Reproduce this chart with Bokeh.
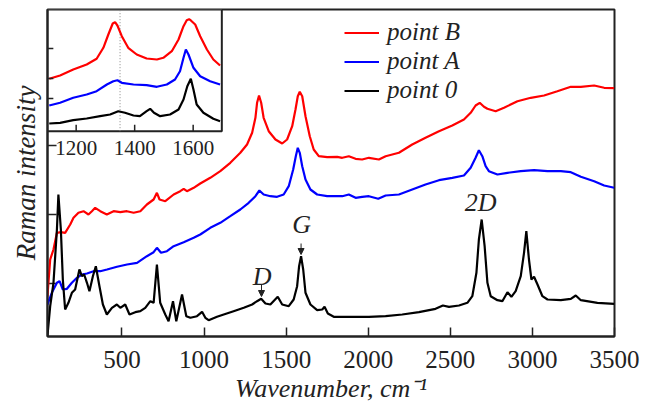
from bokeh.plotting import figure
from bokeh.models import (Range1d, FixedTicker, Legend, LegendItem, Label,
                          Arrow, NormalHead)
from bokeh.embed import file_html
from bokeh.resources import INLINE
from bokeh.core.properties import value

FONT = "Liberation Serif"

# ---------------- main spectra (x: cm^-1, y: arbitrary units) ----------------
x0 = [46, 63, 83, 104, 113, 128, 140, 154, 174, 195, 215, 241, 256, 270, 287, 302,
      323, 341, 363, 384, 408, 439, 469, 490, 520, 546, 581, 612, 642, 673, 693,
      713, 733, 764, 784, 811, 831, 866, 892, 917, 957, 988, 1008, 1028, 1079,
      1120, 1180, 1242, 1293, 1323, 1348, 1374, 1404, 1449, 1476, 1516, 1546,
      1567, 1579, 1591, 1604, 1618, 1648, 1689, 1720, 1734, 1754, 1790, 1831,
      1902, 2004, 2106, 2207, 2309, 2410, 2455, 2492, 2553, 2604, 2634, 2659,
      2674, 2691, 2709, 2726, 2746, 2787, 2817, 2848, 2872, 2898, 2929, 2949,
      2963, 2979, 2994, 3010, 3031, 3061, 3092, 3173, 3234, 3264, 3295, 3396, 3498]
y0 = [-1.0, 2.03, 4.37, 9.7, 13.2, 9.7, 4.7, 1.7, 2.37, 3.37, 3.7, 5.7, 5.03, 5.2,
      4.37, 3.53, 5.03, 6.03, 4.03, 2.2, 1.2, 1.87, 2.2, 1.87, 2.2, 1.2, 1.43, 1.53,
      1.87, 2.53, 2.37, 6.2, 2.37, 1.2, 0.53, 2.53, 0.53, 3.2, 1.03, 0.87, 1.03,
      1.47, 0.87, 0.63, 0.97, 1.2, 1.53, 1.87, 2.2, 2.53, 2.77, 2.3, 2.2, 2.97, 2.2,
      2.03, 2.7, 4.03, 6.03, 7.03, 5.7, 3.37, 2.2, 1.63, 1.7, 1.97, 1.3, 0.97, 0.97,
      0.97, 0.97, 1.03, 1.2, 1.43, 1.77, 2.1, 1.97, 2.1, 2.37, 3.03, 5.37, 8.7,
      10.7, 8.03, 4.37, 3.03, 2.63, 2.53, 3.43, 2.97, 3.53, 5.03, 7.37, 9.53, 6.7,
      4.7, 4.97, 4.2, 3.03, 2.7, 2.63, 2.77, 3.1, 2.63, 2.37, 2.27]

xB = [46, 63, 83, 104, 128, 154, 185, 205, 235, 266, 296, 317, 337, 368, 408, 449,
      490, 530, 571, 612, 652, 693, 713, 729, 764, 815, 855, 876, 896, 937, 977,
      1038, 1099, 1160, 1221, 1262, 1293, 1313, 1323, 1335, 1348, 1363, 1394, 1435,
      1476, 1506, 1537, 1557, 1571, 1583, 1598, 1618, 1644, 1668, 1699, 1750, 1811,
      1842, 1882, 1923, 1963, 2004, 2065, 2106, 2187, 2268, 2349, 2431, 2512, 2583,
      2624, 2654, 2679, 2705, 2726, 2776, 2827, 2909, 2990, 3071, 3152, 3234, 3295,
      3376, 3437, 3498]
yB = [3.0, 6.7, 7.7, 9.37, 9.43, 9.37, 10.2, 10.87, 11.37, 11.53, 11.2, 11.53, 11.87,
      11.53, 11.2, 11.53, 11.43, 11.53, 11.37, 11.53, 12.2, 12.7, 13.37, 12.7, 12.53,
      13.2, 13.53, 13.77, 13.53, 13.87, 14.3, 14.87, 15.53, 16.37, 17.37, 18.2, 19.37,
      20.87, 22.37, 23.1, 22.37, 20.87, 19.53, 18.7, 18.3, 18.7, 20.03, 21.7, 23.03,
      23.47, 23.03, 21.03, 19.03, 17.7, 17.03, 16.93, 16.97, 16.87, 17.03, 16.77,
      16.7, 16.87, 16.7, 17.03, 17.37, 18.2, 18.87, 19.53, 20.1, 20.7, 21.37, 22.1,
      22.37, 21.97, 21.77, 21.53, 21.87, 22.53, 22.87, 23.1, 23.53, 23.97, 23.97,
      24.1, 23.87, 23.83]

xA = [46, 73, 104, 120, 140, 165, 195, 226, 256, 287, 327, 368, 409, 470, 531, 592,
      652, 693, 713, 738, 774, 815, 876, 937, 977, 1038, 1099, 1160, 1221, 1272,
      1313, 1337, 1363, 1404, 1445, 1485, 1516, 1543, 1559, 1571, 1583, 1598, 1618,
      1648, 1689, 1750, 1811, 1842, 1882, 1923, 1963, 2004, 2061, 2106, 2187, 2268,
      2349, 2431, 2512, 2583, 2624, 2654, 2674, 2695, 2715, 2735, 2787, 2848, 2929,
      3010, 3092, 3173, 3234, 3295, 3376, 3437, 3498]
yA = [2.2, 3.37, 4.37, 4.53, 3.7, 3.77, 4.37, 4.87, 5.2, 5.3, 5.53, 5.53, 5.7, 5.97,
      6.2, 6.37, 7.03, 7.43, 7.87, 7.37, 7.53, 8.03, 8.43, 8.87, 9.2, 9.87, 10.37,
      11.03, 11.7, 12.37, 13.03, 13.6, 13.2, 13.03, 12.97, 13.2, 14.03, 15.7, 17.03,
      17.87, 17.37, 16.03, 14.7, 13.7, 13.2, 13.03, 13.03, 13.03, 13.2, 12.87, 12.97,
      13.03, 12.77, 13.1, 13.2, 13.7, 14.2, 14.63, 14.87, 15.1, 15.87, 16.87, 17.63,
      17.03, 16.03, 15.53, 15.2, 15.37, 15.53, 15.63, 15.53, 15.53, 15.43, 14.97,
      14.53, 14.1, 13.87]

# ---------------- inset spectra (1100-1700 cm^-1) ----------------
ixB = [1108, 1145, 1190, 1236, 1270, 1293, 1310, 1325, 1333, 1341, 1356, 1378, 1407,
       1441, 1476, 1498, 1527, 1550, 1567, 1578, 1586, 1593, 1607, 1624, 1647, 1669, 1692]
iyB = [5.24, 5.57, 6.17, 6.67, 7.24, 8.34, 9.67, 10.77, 10.9, 10.57, 9.5, 8.34, 7.67,
       7.27, 7.17, 7.34, 8.0, 9.17, 10.5, 11.1, 11.2, 11.05, 10.67, 9.5, 8.17, 7.17, 6.57]
ixA = [1108, 1145, 1190, 1236, 1270, 1305, 1327, 1341, 1356, 1396, 1441, 1476, 1510,
       1538, 1555, 1567, 1575, 1584, 1601, 1624, 1658, 1692]
iyA = [2.57, 2.84, 3.34, 3.67, 4.0, 4.67, 5.0, 5.1, 4.84, 4.67, 4.6, 4.44, 4.67, 5.17,
       6.0, 7.34, 8.17, 7.67, 6.34, 5.5, 5.0, 4.67]
ix0 = [1108, 1145, 1190, 1236, 1282, 1316, 1344, 1367, 1396, 1418, 1441, 1453, 1466,
       1487, 1521, 1550, 1567, 1580, 1592, 1601, 1612, 1635, 1669, 1692]
iy0 = [0.77, 0.84, 1.1, 1.27, 1.5, 1.67, 2.0, 1.84, 1.57, 1.5, 2.0, 2.24, 1.84, 1.5,
       1.67, 2.17, 3.17, 4.5, 5.24, 4.17, 2.67, 1.84, 1.24, 1.0]

# axes / ticks
x_range = [46.6, 3500]
y_range = [-1.0, 31.7]
x_ticks = [500, 1000, 1500, 2000, 2500, 3000, 3500]
y_ticks = [4.3, 11.2, 18.1, 25.0]
x_title = "Wavenumber, cm\u207b\u00b9"
y_title = "Raman intensity"
inset_x_ticks = [1200, 1400, 1600]
inset_x_labels = ["1200", "1400", "1600"]
inset_y_ticks = [3.27, 5.27, 8.27]
inset_x = [1102, 1698]
inset_y = [0, 12.17]
inset_marker_x = 1350

series_names = ["point B", "point A", "point 0"]
colors = ["#ff0000", "#0000ff", "#000000"]

peak_labels = ["D", "G", "2D"]
peak_label_x = [1354, 1595, 2685]
peak_label_y = [5.03, 10.2, 12.4]
arrow_x = [1350, 1591]
arrow_y_start = [4.2, 8.3]
arrow_y_end = [3.0, 7.2]

INK = "#222222"

p = figure(width=651, height=405, output_backend="svg", toolbar_location=None,
           x_range=Range1d(*x_range), y_range=Range1d(*y_range),
           min_border_left=47, min_border_right=37, min_border_top=9,
           min_border_bottom=68)
p.extra_x_ranges = {"ix": Range1d(1102, 3040.5)}
p.extra_y_ranges = {"iy": Range1d(-20.53, 12.17)}

p.grid.visible = False
p.outline_line_color = INK
p.outline_line_width = 2
p.background_fill_color = "white"
p.border_fill_color = "white"

xa = p.xaxis[0]
xa.ticker = FixedTicker(ticks=x_ticks)
xa.major_tick_in = 9
xa.major_tick_out = 0
xa.minor_tick_line_color = None
xa.axis_line_width = 2
xa.axis_line_color = INK
xa.major_tick_line_width = 1.5
xa.major_tick_line_color = INK
xa.major_label_text_font = FONT
xa.major_label_text_font_size = "25px"
xa.major_label_text_color = INK
xa.major_label_standoff = 14
xa.axis_label = x_title
xa.axis_label_text_font = FONT
xa.axis_label_text_font_style = "italic"
xa.axis_label_text_font_size = "26px"
xa.axis_label_text_color = INK
xa.axis_label_standoff = 3

ya = p.yaxis[0]
ya.ticker = FixedTicker(ticks=[])
ya.major_tick_line_color = None
ya.minor_tick_line_color = None
ya.axis_line_width = 2
ya.axis_line_color = INK
ya.axis_label = y_title
ya.axis_label_text_font = FONT
ya.axis_label_text_font_style = "italic"
ya.axis_label_text_font_size = "27px"
ya.axis_label_text_color = INK
ya.axis_label_standoff = 7

# left-axis inward ticks
p.segment(x0=[x_range[0]] * len(y_ticks), x1=[x_range[0] + 55] * len(y_ticks),
          y0=y_ticks, y1=y_ticks, line_color=INK, line_width=1.5)

rB = p.line(xB, yB, line_color=colors[0], line_width=2.2)
rA = p.line(xA, yA, line_color=colors[1], line_width=2.2)
r0 = p.line(x0, y0, line_color=colors[2], line_width=2.2)

# one legend per row so that the row pitch matches the reference
legend_rows_y = [290, 261, 232]
for name, r, ly in zip(series_names, [rB, rA, r0], legend_rows_y):
    lg = Legend(items=[LegendItem(label=name, renderers=[r])],
                location=(297, ly), label_text_font=FONT,
                label_text_font_style="italic", label_text_font_size="25px",
                label_text_color=INK,
                glyph_width=35, glyph_height=27, label_height=27, label_standoff=8,
                padding=0, margin=0, spacing=0, border_line_color=None,
                background_fill_alpha=0)
    p.add_layout(lg)

for t, lx, ly in zip(peak_labels, peak_label_x, peak_label_y):
    p.add_layout(Label(x=lx, y=ly, text=t, text_font=FONT, text_font_style="italic",
                       text_font_size="26px", text_align="center",
                       text_baseline="middle", text_color=INK))
for ax_, ys, ye in zip(arrow_x, arrow_y_start, arrow_y_end):
    p.add_layout(Arrow(x_start=ax_, y_start=ys, x_end=ax_, y_end=ye, line_width=1,
                       line_color=INK,
                       end=NormalHead(size=6, fill_color=INK, line_color=INK)))

# ---------------- inset ----------------
kw = dict(x_range_name="ix", y_range_name="iy")
p.quad(left=[inset_x[0]], right=[inset_x[1]], bottom=[inset_y[0]], top=[inset_y[1]],
       fill_color="white", line_color=INK, line_width=2, **kw)
p.segment(x0=[inset_marker_x], x1=[inset_marker_x], y0=[inset_y[0]], y1=[inset_y[1]],
          line_color="#888888", line_dash="1 2", line_width=1, **kw)
p.line(ixB, iyB, line_color=colors[0], line_width=2.2, **kw)
p.line(ixA, iyA, line_color=colors[1], line_width=2.2, **kw)
p.line(ix0, iy0, line_color=colors[2], line_width=2.2, **kw)
p.segment(x0=inset_x_ticks, x1=inset_x_ticks, y0=[inset_y[0]] * 3, y1=[0.65] * 3,
          line_color=INK, line_width=1.5, **kw)
p.segment(x0=[inset_x[0]] * 3, x1=[inset_x[0] + 20] * 3, y0=inset_y_ticks,
          y1=inset_y_ticks, line_color=INK, line_width=1.5, **kw)
p.text(x=inset_x_ticks, y=[-1.65] * 3, text=inset_x_labels, text_align="center",
       text_baseline="middle", text_font=value(FONT), text_font_size="21px",
       text_color=INK, **kw)

open("out.html", "w").write(file_html(p, INLINE))
